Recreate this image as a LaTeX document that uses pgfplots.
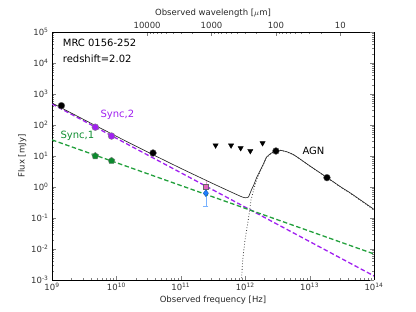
\documentclass[border=0pt]{standalone}
\usepackage{fontspec}
\setmainfont{DejaVu Sans}
\usepackage{pgfplots}
\pgfplotsset{compat=1.18}
\definecolor{syncpurple}{HTML}{A020F0}
\definecolor{syncgreen}{HTML}{22A03C}
\definecolor{mkgreen}{HTML}{0C8A2E}
\definecolor{pinkm}{HTML}{E066C0}
\definecolor{bluem}{HTML}{1E7FFF}
\begin{document}
\begin{tikzpicture}
\path[use as bounding box] (-52pt,-32pt) rectangle (364pt,280pt);
\begin{axis}[
  at={(0,0)}, anchor=south west,
  scale only axis, width=322pt, height=248pt,
  xmode=log, ymode=log,
  xmin=1e9, xmax=1e14, ymin=1e-3, ymax=1e5,
  axis x line*=bottom,
  tick align=inside,
  major tick length=4pt, minor tick length=2pt,
  xtick={1e9,1e10,1e11,1e12,1e13,1e14},
  xticklabels={10\textsuperscript{9},10\textsuperscript{10},10\textsuperscript{11},10\textsuperscript{12},10\textsuperscript{13},10\textsuperscript{14}},
  ytick={1e-3,1e-2,1e-1,1,10,100,1e3,1e4,1e5},
  yticklabels={10\textsuperscript{-3},10\textsuperscript{-2},10\textsuperscript{-1},10\textsuperscript{0},10\textsuperscript{1},10\textsuperscript{2},10\textsuperscript{3},10\textsuperscript{4},10\textsuperscript{5}},
  ticklabel style={font=\fontsize{8.5}{9}\selectfont, text=black!80},
  xlabel={Observed frequency [Hz]},
  ylabel={Flux [mJy]},
  label style={font=\fontsize{8.5}{9}\selectfont, text=black!85},
  xlabel style={yshift=2pt},
  ylabel style={yshift=-2pt},
  axis line style={line width=0.9pt},
  clip=true,
]
% Sync,2
\addplot[syncpurple, line width=1.3pt, dash pattern=on 4.5pt off 2.5pt] coordinates {(1e9,478.6) (1e14,1.35e-3)};
% Sync,1
\addplot[syncgreen, line width=1.3pt, dash pattern=on 4.5pt off 2.5pt] coordinates {(1e9,33.1) (1e14,6.92e-3)};
% AGN dotted
\addplot[black!75, dotted, line width=0.8pt] coordinates {
(8.51e11,5e-4) (8.83e11,0.00129) (9.14e11,0.00447) (9.93e11,0.0195) (1.117e12,0.0871)
(1.230e12,0.380) (1.349e12,0.794) (1.514e12,1.778) (1.905e12,5.13) (2.138e12,8.91)
(2.512e12,12.0) (3.020e12,14.45) (3.548e12,15.14) (4.467e12,13.49) (5.623e12,10.96)
(7.079e12,7.94) (1e13,4.79) (1.862e13,2.0) (3.162e13,0.933) (4.266e13,0.631) (1e14,0.182)};
% Total
\addplot[black!85, line width=0.65pt, smooth, tension=0.3] coordinates {
(1e9,511.7) (3.162e9,147.6) (1e10,43.2) (3.162e10,12.96) (1e11,4.0) (3.162e11,1.283)
(6.310e11,0.661) (8.913e11,0.479) (1e12,0.450) (1.122e12,0.476) (1.259e12,0.837)
(1.349e12,1.119) (1.514e12,2.07) (1.905e12,5.37) (2.138e12,9.13) (2.512e12,12.2)
(3.020e12,14.6) (3.548e12,15.27) (4.467e12,13.6) (5.623e12,11.05) (7.079e12,8.02)
(1e13,4.84) (1.862e13,2.03) (3.162e13,0.954) (4.266e13,0.647) (1e14,0.190)};
% upper limits
\addplot[only marks, mark=triangle*, mark size=3pt, mark options={rotate=180, fill=black, draw=black}] coordinates {
(3.47e11,22) (6.03e11,22) (8.5e11,18) (1.2e12,14.5) (1.86e12,26)};
% error bars
\addplot[pinkm!60, line width=0.6pt] coordinates {(2.45e11,0.62) (2.45e11,1.6)};
\addplot[bluem!60, line width=0.6pt] coordinates {(2.45e11,0.24) (2.45e11,0.9)};
\addplot[only marks, mark=-, mark size=2.5pt, mark options={bluem!60, line width=0.6pt}] coordinates {(2.45e11,0.24)};
% data points
\addplot[only marks, mark=*, mark size=3.4pt, mark options={fill=black, draw=black!60}] coordinates {
(1.4e9,420) (3.7e10,12.5) (3.0e12,14.5) (1.86e13,2.0)};
\addplot[only marks, mark=*, mark size=3.4pt, mark options={fill=syncpurple, draw=black!50}] coordinates {
(4.7e9,85) (8.4e9,44)};
\addplot[only marks, mark=pentagon*, mark size=3.6pt, mark options={fill=mkgreen, draw=black!50}] coordinates {
(4.7e9,10) (8.4e9,7)};
\addplot[only marks, mark=square*, mark size=2.6pt, mark options={fill=pinkm, draw=black!60}] coordinates {(2.45e11,1.0)};
\addplot[only marks, mark=diamond*, mark size=3.4pt, mark options={fill=bluem, draw=bluem!70!black}] coordinates {(2.45e11,0.63)};
% annotations
\node[anchor=west, font=\fontsize{10}{12}\selectfont] at (axis cs:1.30e9,4.4e4) {MRC 0156-252};
\node[anchor=west, font=\fontsize{10}{12}\selectfont] at (axis cs:1.30e9,1.35e4) {redshift=2.02};
\node[anchor=west, text=syncpurple, font=\fontsize{10}{12}\selectfont] at (axis cs:5.0e9,210) {Sync,2};
\node[anchor=west, text=mkgreen!80!syncgreen, font=\fontsize{10}{12}\selectfont] at (axis cs:1.2e9,44) {Sync,1};
\node[anchor=west, font=\fontsize{10}{12}\selectfont] at (axis cs:6.84e12,14.5) {AGN};
\end{axis}
\begin{axis}[
  at={(0,0)}, anchor=south west,
  scale only axis, width=322pt, height=248pt,
  xmode=log, x dir=reverse,
  xmin=3, xmax=3e5, ymin=0, ymax=1,
  axis x line*=top, axis y line*=right,
  ytick=\empty,
  tick align=inside,
  major tick length=4pt, minor tick length=2pt,
  xtick={10,100,1000,10000},
  xticklabels={10,100,1000,10000},
  ticklabel style={font=\fontsize{8.5}{9}\selectfont, text=black!80},
  xlabel={Observed wavelength [$\mu$m]},
  label style={font=\fontsize{8.5}{9}\selectfont, text=black!85},
  xlabel style={yshift=-2pt},
  axis line style={line width=0.9pt},
]
\end{axis}
\begin{axis}[
  at={(0,0)}, anchor=south west,
  scale only axis, width=322pt, height=248pt,
  xmode=log, ymode=log, xmin=1e9, xmax=1e14, ymin=1e-3, ymax=1e5,
  axis x line=none, axis y line*=right,
  yticklabels={}, tick align=inside,
  major tick length=4pt, minor tick length=2pt,
  ytick={1e-3,1e-2,1e-1,1,10,100,1e3,1e4,1e5},
  axis line style={line width=0.9pt},
]
\end{axis}
\end{tikzpicture}
\end{document}
